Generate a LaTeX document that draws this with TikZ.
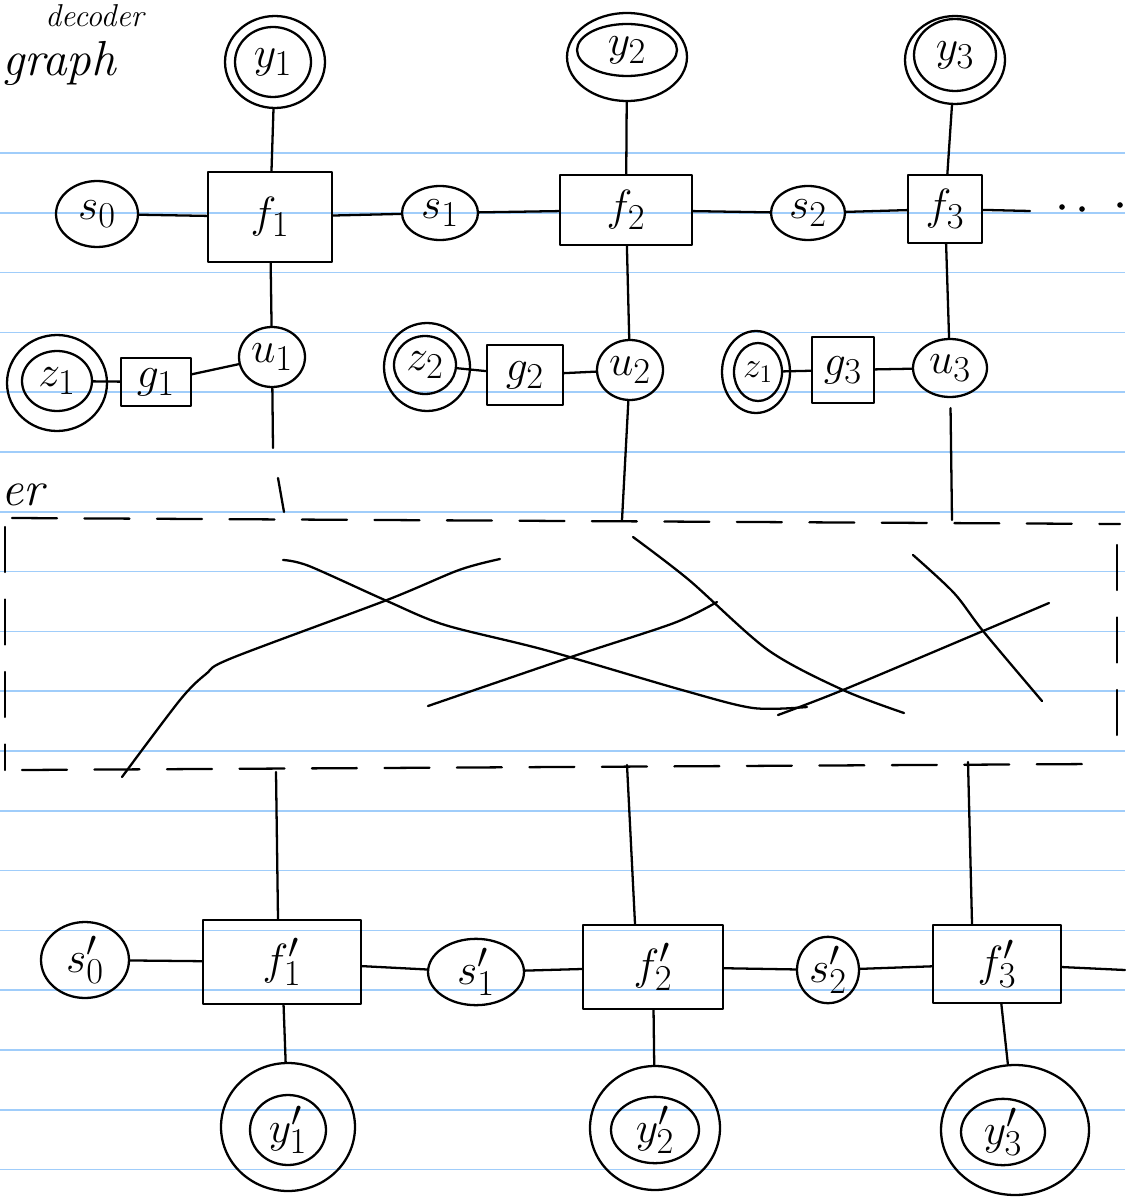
\documentclass[tikz,border=0pt]{standalone}
\usetikzlibrary{shapes.geometric}
\definecolor{paperblue}{RGB}{160,205,250}
\begin{document}
\begin{tikzpicture}[x=0.02cm,y=-0.02cm,
  stroke/.style={line width=1.3pt, line cap=round, line join=round},
  var/.style={draw, ellipse, stroke, inner sep=0pt, font=\fontsize{28}{30}\selectfont},
  ring/.style={draw, ellipse, stroke, inner sep=0pt},
  fac/.style={draw, rectangle, stroke, inner sep=0pt, font=\fontsize{28}{30}\selectfont},
  edge/.style={stroke},
  boxdash/.style={stroke, dash pattern=on 0.9cm off 0.55cm},
  rule/.style={draw=paperblue, line width=1pt},
  hand/.style={font=\fontsize{28}{30}\selectfont\itshape, inner sep=0pt}]
\useasboundingbox (0,0) rectangle (1125,1199);
\fill[white] (0,0) rectangle (1125,1199);
% paper rules
\foreach \k in {0,...,17} \draw[rule] (0,{153+\k*59.8}) -- (1125,{153+\k*59.8});
% handwriting
\node[hand, anchor=base west, font=\fontsize{18}{20}\selectfont\itshape] (tdec) at (45,27) {decoder};
\node[hand, anchor=base west] (tgraph) at (2,76) {graph};
\node[hand, anchor=base west] (ter) at (1,505) {er};
% ---------- top chain ----------
\node[var, minimum width=1.52cm, minimum height=1.40cm] (y1) at (273,62) {$y_1$};
\node[ring, minimum width=2.0cm, minimum height=1.84cm] (y1o) at (275,62) {};
\node[var, minimum width=2.0cm, minimum height=1.04cm] (y2) at (627,50) {$y_2$};
\node[ring, minimum width=2.4cm, minimum height=1.76cm] (y2o) at (627,57) {};
\node[var, minimum width=1.64cm, minimum height=1.44cm] (y3) at (955,55) {$y_3$};
\node[ring, minimum width=2.0cm, minimum height=1.76cm] (y3o) at (955,60) {};
\node[var, minimum width=1.64cm, minimum height=1.32cm] (s0) at (97,214) {$s_0$};
\node[fac, minimum width=2.48cm, minimum height=1.8cm] (f1) at (270,217) {$f_1$};
\node[var, minimum width=1.52cm, minimum height=1.08cm] (s1) at (440,213) {$s_1$};
\node[fac, minimum width=2.64cm, minimum height=1.4cm] (f2) at (626,210) {$f_2$};
\node[var, minimum width=1.48cm, minimum height=1.08cm] (s2) at (808,213) {$s_2$};
\node[fac, minimum width=1.48cm, minimum height=1.36cm] (f3) at (945,209) {$f_3$};
\coordinate (t1) at (1030,211);
\draw[edge] (s0) -- (f1);
\draw[edge] (f1) -- (s1);
\draw[edge] (s1) -- (f2);
\draw[edge] (f2) -- (s2);
\draw[edge] (s2) -- (f3);
\draw[edge] (f3) -- (t1);
\fill (1062,207) circle (1.6pt);
\fill (1082,209) circle (1.6pt);
\fill (1120,205) circle (1.6pt);
\draw[edge] (f1) -- (y1o);
\draw[edge] (f2) -- (y2o);
\draw[edge] (f3) -- (y3o);
% ---------- u / g / z row ----------
\node[var, minimum width=1.4cm, minimum height=1.2cm] (z1) at (57,381) {$z_1$};
\node[ring, minimum width=2.0cm, minimum height=1.92cm] (z1o) at (57,383) {};
\node[fac, minimum width=1.4cm, minimum height=0.96cm] (g1) at (156,382) {$g_1$};
\node[var, minimum width=1.32cm, minimum height=1.2cm] (u1) at (272,357) {$u_1$};
\node[var, minimum width=1.24cm, minimum height=1.16cm] (z2) at (425,365) {$z_2$};
\node[ring, minimum width=1.72cm, minimum height=1.76cm] (z2o) at (427,367) {};
\node[fac, minimum width=1.52cm, minimum height=1.2cm] (g2) at (525,375) {$g_2$};
\node[var, minimum width=1.32cm, minimum height=1.2cm] (u2) at (630,370) {$u_2$};
\node[var, minimum width=0.96cm, minimum height=1.16cm, font=\fontsize{22}{24}\selectfont] (z3) at (758,372) {$z_1$};
\node[ring, minimum width=1.36cm, minimum height=1.64cm] (z3o) at (756,372) {};
\node[fac, minimum width=1.24cm, minimum height=1.32cm] (g3) at (843,370) {$g_3$};
\node[var, minimum width=1.48cm, minimum height=1.16cm] (u3) at (950,368) {$u_3$};
\draw[edge] (z1) -- (g1);
\draw[edge] (g1) -- (u1);
\draw[edge] (z2) -- (g2);
\draw[edge] (g2) -- (u2);
\draw[edge] (z3) -- (g3);
\draw[edge] (g3) -- (u3);
\draw[edge] (f1) -- (u1);
\draw[edge] (f2) -- (u2);
\draw[edge] (f3) -- (u3);
% links down to the dashed box
\coordinate (a1) at (273,448);
\coordinate (a1b) at (278,478);
\coordinate (a1c) at (284,512);
\coordinate (a2) at (622,520);
\coordinate (a3) at (952,520);
\draw[edge] (u1) -- (a1);
\draw[edge] (a1b) -- (a1c);
\draw[edge] (u2) -- (a2);
\draw[edge, shorten <=0.2cm] (u3) -- (a3);
% ---------- dashed box ----------
\draw[boxdash] (12,518) -- (1120,524);
\draw[boxdash] (5,527) -- (5,770);
\draw[boxdash] (22,770) -- (1095,764);
\draw[boxdash] (1117,545) -- (1117,745);
% crossing lines
\draw[edge] plot[smooth] coordinates {(122,777) (180,700) (206,674) (232,658) (387,600) (459,570) (500,559)};
\draw[edge] plot[smooth] coordinates {(283,560) (309,566) (387,601) (445,625) (545,650) (682,690) (753,708) (807,707)};
\draw[edge] plot[smooth] coordinates {(428,706) (574,656) (674,623) (717,602)};
\draw[edge] plot[smooth] coordinates {(633,537) (689,580) (768,650) (843,690) (904,713)};
\draw[edge] plot[smooth] coordinates {(778,715) (843,690) (983,631) (1049,603)};
\draw[edge] plot[smooth] coordinates {(913,555) (954,593) (983,631) (1042,701)};
% ---------- bottom chain ----------
\node[var, minimum width=1.76cm, minimum height=1.52cm] (s0p) at (85,960) {$s_0'$};
\node[fac, minimum width=3.16cm, minimum height=1.68cm] (f1p) at (282,962) {$f_1'$};
\node[var, minimum width=1.92cm, minimum height=1.32cm] (s1p) at (476,972) {$s_1'$};
\node[fac, minimum width=2.8cm, minimum height=1.68cm] (f2p) at (653,967) {$f_2'$};
\node[var, minimum width=1.24cm, minimum height=1.32cm] (s2p) at (828,970) {$s_2'$};
\node[fac, minimum width=2.56cm, minimum height=1.56cm] (f3p) at (997,964) {$f_3'$};
\coordinate (t2) at (1125,970);
\draw[edge] (s0p) -- (f1p);
\draw[edge] (f1p) -- (s1p);
\draw[edge] (s1p) -- (f2p);
\draw[edge] (f2p) -- (s2p);
\draw[edge] (s2p) -- (f3p);
\draw[edge] (f3p) -- (t2);
\coordinate (b1) at (276,772);
\coordinate (b2) at (627,765);
\coordinate (b3) at (968,762);
\draw[edge] (b1) -- ([xshift=-0.08cm]f1p.north);
\draw[edge] (b2) -- ([xshift=-0.36cm]f2p.north);
\draw[edge] (b3) -- ([xshift=-0.5cm]f3p.north);
\node[var, minimum width=1.52cm, minimum height=1.4cm] (y1p) at (288,1130) {$y_1'$};
\node[ring, minimum width=2.68cm, minimum height=2.56cm] (y1po) at (288,1127) {};
\node[var, minimum width=1.76cm, minimum height=1.2cm] (y2p) at (655,1130) {$y_2'$};
\node[ring, minimum width=2.6cm, minimum height=2.48cm] (y2po) at (655,1128) {};
\node[var, minimum width=1.68cm, minimum height=1.12cm] (y3p) at (1003,1132) {$y_3'$};
\node[ring, minimum width=2.96cm, minimum height=2.6cm] (y3po) at (1015,1130) {};
\draw[edge] (f1p) -- (y1po);
\draw[edge] (f2p) -- (y2po);
\draw[edge] (f3p) -- (y3po);
\end{tikzpicture}
\end{document}
